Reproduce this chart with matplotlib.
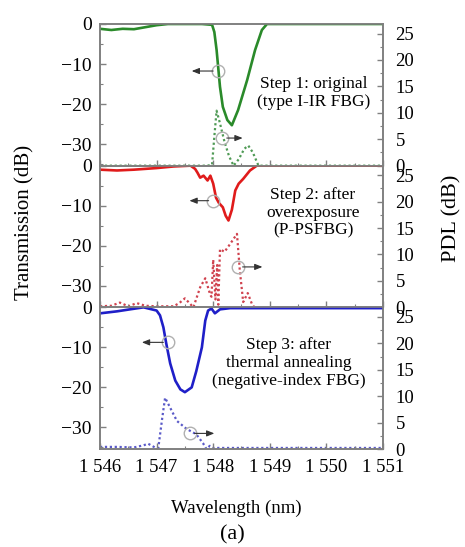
"""Three-step FBG transmission / PDL spectra, stacked panels."""

import matplotlib
matplotlib.use('Agg')
import matplotlib.pyplot as plt
from matplotlib.ticker import MultipleLocator, FixedLocator


OUT_PNG = 'out.png'
FIG_W_PX, FIG_H_PX = 465, 547
DPI = 100

# step 1: original type I-IR grating
wl1_trans = [1546.0, 1546.2, 1546.4, 1546.6, 1546.8, 1547.0, 1547.2, 1547.5, 1547.8,
             1547.98, 1548.02, 1548.06, 1548.12, 1548.17, 1548.25, 1548.33, 1548.44,
             1548.6, 1548.74, 1548.86, 1548.95, 1549.5, 1550.0, 1551.0]
trans1 = [-1.2, -1.5, -1.2, -1.3, -0.8, -0.3, 0.0, 0.0, 0.0,
          -0.2, -2.0, -6.5, -15.7, -20.7, -24.0, -25.3, -21.5,
          -14.0, -6.5, -1.5, 0.0, 0.0, 0.0, 0.0]
wl1_pdl = [1546.0, 1547.9, 1547.98, 1548.02, 1548.06, 1548.12, 1548.2, 1548.28,
           1548.36, 1548.45, 1548.55, 1548.62, 1548.7, 1548.8, 1548.9, 1551.0]
pdl1 = [0.0, 0.0, 0.2, 5.5, 10.4, 8.0, 4.5, 1.8,
        0.0, 1.2, 3.2, 3.8, 2.5, 0.0, 0.0, 0.0]

# step 2: after overexposure (P-PSFBG)
wl2_trans = [1546.0, 1546.3, 1546.6, 1547.0, 1547.3, 1547.6, 1547.68, 1547.72, 1547.77,
             1547.83, 1547.9, 1547.95, 1548.0, 1548.05, 1548.1, 1548.17, 1548.22,
             1548.27, 1548.33, 1548.39, 1548.45, 1548.53, 1548.65, 1548.77, 1549.0,
             1550.0, 1551.0]
trans2 = [-1.0, -1.2, -1.0, -0.6, -0.2, 0.0, -0.8, -1.7, -3.0,
          -2.5, -3.7, -2.5, -4.5, -8.0, -9.3, -10.4, -12.5,
          -13.7, -11.0, -6.2, -4.5, -3.3, -1.2, 0.0, 0.0,
          0.0, 0.0]
wl2_pdl = [1546.0, 1546.2, 1546.35, 1546.5, 1546.65, 1546.8, 1547.0, 1547.3, 1547.4,
           1547.5, 1547.58, 1547.65, 1547.77, 1547.86, 1547.95, 1547.97, 1548.0,
           1548.04, 1548.07, 1548.09, 1548.12, 1548.2, 1548.3, 1548.42, 1548.47,
           1548.53, 1548.61, 1548.7, 1548.8, 1551.0]
pdl2 = [0.2, 0.3, 0.9, 0.2, 0.8, 0.3, 0.2, 0.2, 0.8,
        1.7, 0.8, 0.0, 3.8, 5.5, 2.3, 2.0, 9.0,
        1.5, 8.0, 0.5, 11.0, 10.5, 12.0, 13.9, 7.0,
        1.0, 2.7, 0.2, 0.0, 0.0]

# step 3: after thermal annealing (negative-index FBG)
wl3_trans = [1546.0, 1546.3, 1546.53, 1546.77, 1547.0, 1547.06, 1547.12, 1547.17, 1547.24,
             1547.33, 1547.42, 1547.5, 1547.62, 1547.7, 1547.8, 1547.86, 1547.91,
             1547.97, 1548.03, 1548.12, 1548.3, 1549.0, 1550.0, 1551.0]
trans3 = [-1.5, -1.0, -0.5, 0.0, -0.8, -2.0, -5.0, -9.0, -14.0,
          -18.3, -20.5, -21.2, -20.0, -16.0, -10.0, -3.3, -0.8,
          -0.3, -1.5, -0.5, -0.2, -0.2, -0.2, -0.2]
wl3_pdl = [1546.0, 1546.3, 1546.6, 1546.77, 1546.85, 1546.97, 1547.03, 1547.1, 1547.15,
           1547.24, 1547.36, 1547.53, 1547.7, 1547.82, 1547.88, 1547.94, 1548.0,
           1548.2, 1551.0]
pdl3 = [0.4, 0.4, 0.3, 0.7, 1.0, 0.3, 0.2, 5.9, 9.7,
        7.8, 5.3, 3.8, 2.8, 1.1, 0.0, 0.6, 0.2,
        0.2, 0.2]

step_labels = ['Step 1: original\n(type I-IR FBG)',
               'Step 2: after\noverexposure\n(P-PSFBG)',
               'Step 3: after\nthermal annealing\n(negative-index FBG)']
x_ticks = [1546, 1547, 1548, 1549, 1550, 1551]
x_tick_labels = ['1 546', '1 547', '1 548', '1 549', '1 550', '1 551']

TRANS_COLORS = ['#2a8a2a', '#e01b1b', '#1f1fc8']
PDL_COLORS = ['#4f9a55', '#d0434f', '#5a5ac8']
SPINE_GREY = '#808080'
FONT = 'Liberation Serif'

# pixel layout of the three panels
AX_LEFT_PX, AX_RIGHT_PX = 100, 383
PANEL_TOP_PX = 24
PANEL_H_PX = 141.67
TRANS_LIM = (-35.4, 0.0)
PDL_LIM = (0.0, 26.8)

# (circle x, circle y, arrow end x) in transmission-axis data coords
MARKERS = [
    [(1548.08, -11.75, 1547.62), (1548.16, -28.5, 1548.52)],
    [(1548.00, -8.75, 1547.58), (1548.44, -25.3, 1548.87)],
    [(1547.20, -8.75, 1546.74), (1547.59, -31.5, 1548.02)],
]
# step text centre in pixels
TEXT_POS_PX = [(314, 93), (313, 213), (289, 363)]


def style_axes(ax, ax2, show_xlabels):
    """Grey spines, inward ticks, fixed limits."""
    ax.set_xlim(1546, 1551)
    ax.set_ylim(*TRANS_LIM)
    ax2.set_ylim(*PDL_LIM)
    for a in (ax, ax2):
        for sp in a.spines.values():
            sp.set_color(SPINE_GREY)
            sp.set_linewidth(1.2)
    ax.xaxis.set_major_locator(FixedLocator(x_ticks))
    ax.xaxis.set_minor_locator(MultipleLocator(0.5))
    ax.yaxis.set_major_locator(FixedLocator([0, -10, -20, -30]))
    ax.yaxis.set_minor_locator(MultipleLocator(5))
    ax2.yaxis.set_major_locator(MultipleLocator(5))
    ax2.yaxis.set_minor_locator(MultipleLocator(2.5))

    ax.tick_params(axis='both', which='both', direction='in', color=SPINE_GREY,
                   right=False, top=False)
    ax.tick_params(axis='y', labelsize=14, pad=6)
    ax.tick_params(axis='x', labelsize=13.5, pad=7)
    ax.tick_params(which='major', length=4, width=1)
    ax.tick_params(which='minor', length=2.5, width=0.8)
    ax2.tick_params(axis='y', which='both', direction='in', color=SPINE_GREY,
                    labelsize=13.5, pad=9)
    ax2.tick_params(which='major', length=4, width=1)
    ax2.tick_params(which='minor', length=2.5, width=0.8)

    if show_xlabels:
        ax.set_xticklabels(x_tick_labels)
    else:
        ax.tick_params(axis='x', labelbottom=False)

    for lab in ax.get_yticklabels() + ax2.get_yticklabels() + ax.get_xticklabels():
        lab.set_family(FONT)


def add_markers(ax, ax_markers):
    """Circle-and-arrow hints showing which axis each curve belongs to."""
    for cx, cy, ex in ax_markers:
        ax.plot([cx], [cy], marker='o', markersize=9, markerfacecolor='none',
                markeredgecolor='#b0b0b0', markeredgewidth=1.0, zorder=5)
        direction = 1 if ex > cx else -1
        start = cx + direction * 0.08
        ax.annotate('', xy=(ex, cy), xytext=(start, cy),
                    arrowprops=dict(arrowstyle='-|>,head_length=0.45,head_width=0.18',
                                    color='#333333', lw=0.8, shrinkA=0, shrinkB=0),
                    zorder=5)


def main():
    fig = plt.figure(figsize=(FIG_W_PX / DPI, FIG_H_PX / DPI), dpi=DPI)

    trans_data = [(wl1_trans, trans1), (wl2_trans, trans2), (wl3_trans, trans3)]
    pdl_data = [(wl1_pdl, pdl1), (wl2_pdl, pdl2), (wl3_pdl, pdl3)]

    left = AX_LEFT_PX / FIG_W_PX
    width = (AX_RIGHT_PX - AX_LEFT_PX) / FIG_W_PX
    height = PANEL_H_PX / FIG_H_PX

    for i in range(3):
        top_px = PANEL_TOP_PX + i * PANEL_H_PX
        bottom = 1 - (top_px + PANEL_H_PX) / FIG_H_PX
        ax = fig.add_axes([left, bottom, width, height])
        ax2 = ax.twinx()
        ax.set_zorder(ax2.get_zorder() + 1)
        ax.patch.set_visible(False)

        wl_t, tr = trans_data[i]
        wl_p, pd_ = pdl_data[i]
        ax.plot(wl_t, tr, color=TRANS_COLORS[i], lw=1.9, solid_capstyle='round')
        ax2.plot(wl_p, pd_, color=PDL_COLORS[i], lw=1.6, linestyle=(0, (1, 1.2)))

        style_axes(ax, ax2, show_xlabels=(i == 2))
        add_markers(ax, MARKERS[i])

        tx, ty = TEXT_POS_PX[i]
        fig.text(tx / FIG_W_PX, 1 - ty / FIG_H_PX, step_labels[i],
                 ha='center', va='center', multialignment='center',
                 family=FONT, fontsize=12.5, linespacing=1.15, zorder=10,
                 bbox=dict(boxstyle='square,pad=0.25', facecolor='white',
                           edgecolor='none'))

    fig.text(25 / FIG_W_PX, 1 - 222 / FIG_H_PX, 'Transmission (dB)', rotation=90,
             ha='center', va='center', family=FONT, fontsize=15)
    fig.text(452 / FIG_W_PX, 1 - 218 / FIG_H_PX, 'PDL (dB)', rotation=90,
             ha='center', va='center', family=FONT, fontsize=16)
    fig.text(236 / FIG_W_PX, 1 - 508 / FIG_H_PX, 'Wavelength (nm)',
             ha='center', va='center', family=FONT, fontsize=13.5)
    fig.text(232 / FIG_W_PX, 1 - 535 / FIG_H_PX, '(a)',
             ha='center', va='center', family=FONT, fontsize=16)

    fig.savefig(OUT_PNG, dpi=DPI)
    plt.close(fig)


if __name__ == '__main__':
    main()
